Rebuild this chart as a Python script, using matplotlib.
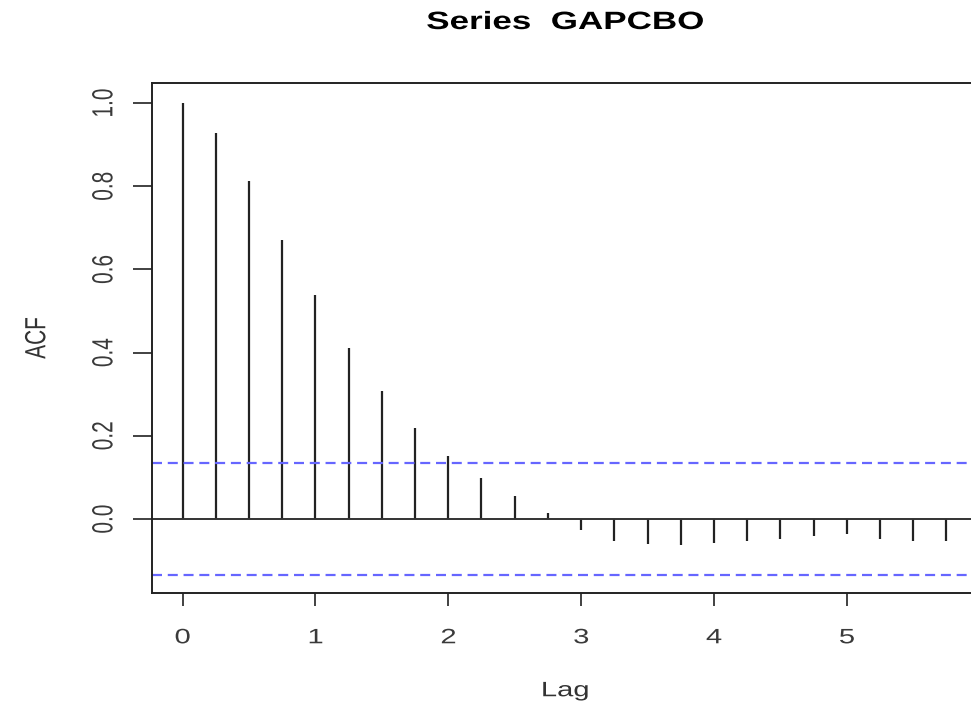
import numpy as np
import matplotlib.pyplot as plt
from matplotlib.patheffects import AbstractPathEffect
from matplotlib.transforms import Affine2D
from matplotlib.text import Text

lags = [0, 0.25, 0.5, 0.75, 1.0, 1.25, 1.5, 1.75, 2.0, 2.25, 2.5, 2.75,
        3.0, 3.25, 3.5, 3.75, 4.0, 4.25, 4.5, 4.75, 5.0, 5.25, 5.5, 5.75]
acf = [1.0, 0.928, 0.812, 0.671, 0.538, 0.411, 0.308, 0.219, 0.151, 0.099, 0.055, 0.014,
       -0.026, -0.052, -0.061, -0.063, -0.057, -0.054, -0.049, -0.042, -0.036, -0.047, -0.052, -0.054]
ci = 0.135
xticks = [0, 1, 2, 3, 4, 5]
yticks = [0.0, 0.2, 0.4, 0.6, 0.8, 1.0]
ytick_labels = ['0.0', '0.2', '0.4', '0.6', '0.8', '1.0']


# the source picture is stretched sideways, so widen the glyphs to match
class Stretch(AbstractPathEffect):
    def __init__(self, sx):
        super().__init__()
        self.sx = sx

    def draw_path(self, renderer, gc, tpath, affine, rgbFace=None):
        if len(tpath.vertices) == 0:
            return
        pts = affine.transform(tpath.vertices)
        cx = (pts[:, 0].min() + pts[:, 0].max()) / 2
        aff = affine + Affine2D().translate(-cx, 0).scale(self.sx, 1).translate(cx, 0)
        renderer.draw_path(gc, tpath, aff, rgbFace)


plt.rcParams['font.family'] = ['Liberation Sans', 'DejaVu Sans']

fig = plt.figure(figsize=(9.71, 7.03), dpi=100)
ax = fig.add_axes([152/971, 110/703, 825/971, 510/703])

ax.vlines(lags, 0, acf, color='#222222', linewidth=1.6)
ax.axhline(0, color='#333333', linewidth=1.4)
ax.axhline(ci, color='#6666ff', linestyle=(0, (4.5, 2.6)), linewidth=1.6)
ax.axhline(-ci, color='#6666ff', linestyle=(0, (4.5, 2.6)), linewidth=1.6)

ax.set_xlim(-0.23, 5.98)
ax.set_ylim(-0.178, 1.048)
ax.set_xticks(xticks)
ax.set_yticks(yticks)
ax.set_yticklabels(ytick_labels, rotation=90, va='center')
ax.tick_params(axis='both', direction='out', width=1.3, labelsize=15,
               colors='#333333', labelcolor='#3a3a3a')
ax.tick_params(axis='x', length=9.4, pad=16)
ax.tick_params(axis='y', length=13.7, pad=14)
for s in ax.spines.values():
    s.set_linewidth(1.4)
    s.set_color('#222222')

ax.set_xlabel('Lag', fontsize=15, color='#333333')
ax.set_ylabel('ACF', fontsize=15, color='#333333')
ax.xaxis.set_label_coords(0.5006, -0.173)
ax.yaxis.set_label_coords(-0.128, 0.5)
fig.text(565/971, 1 - 29/703, 'Series  GAPCBO', fontsize=18, fontweight='bold',
         ha='center', va='baseline')

for t in fig.findobj(Text):
    t.set_path_effects([Stretch(1.4)])

fig.savefig('out.png', dpi=100)
